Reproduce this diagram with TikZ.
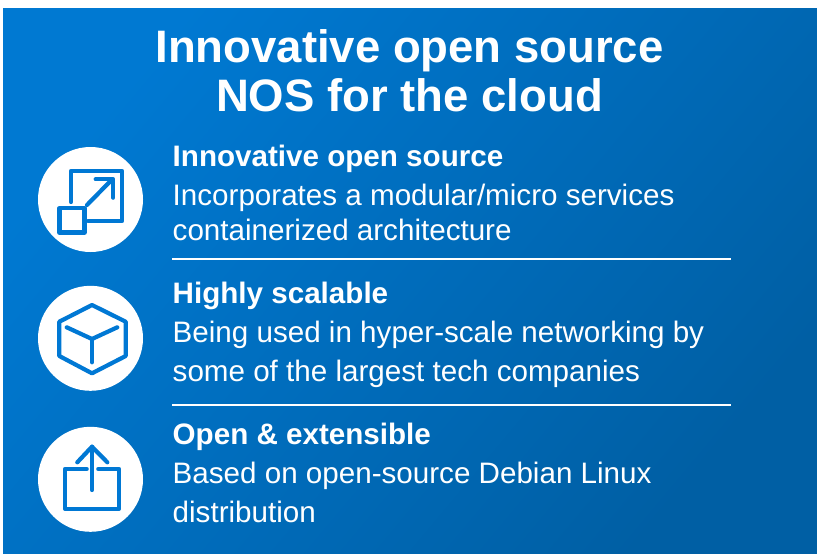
\documentclass[tikz,border=0pt]{standalone}
\usepackage{fontspec}
\setmainfont{Liberation Sans}
\definecolor{bgA}{HTML}{0079D2}
\definecolor{bgM}{HTML}{0076CC}
\definecolor{bgB}{HTML}{005FA4}
\definecolor{iconblue}{HTML}{0078D4}
\tikzset{
  titletext/.style={text=white,font=\fontsize{45.5}{50}\selectfont\bfseries,anchor=base,inner sep=0pt},
  headtext/.style={text=white,font=\fontsize{29.6}{32}\selectfont\bfseries,anchor=base west,inner sep=0pt},
  bodytext/.style={text=white,font=\fontsize{29.6}{32}\selectfont,anchor=base west,inner sep=0pt},
  disc/.style={fill=white,draw=none},
  iconline/.style={draw=iconblue,line width=4.2pt,line cap=round,line join=round},
  rulerline/.style={draw=white,line width=2.4pt}
}
\begin{document}
\begin{tikzpicture}[x=1pt,y=-1pt]
\useasboundingbox (0,0) rectangle (817,554);
\fill[white] (0,0) rectangle (817,554);
\begin{scope}
\clip (3,8) rectangle (817,554);
\shade[left color=bgA,middle color=bgM,right color=bgB,shading angle=50] (3,8) rectangle (817,554);
\end{scope}
\node[titletext] (t1) at (409.5,62) {Innovative open source};
\node[titletext] (t2) at (409.5,111) {NOS for the cloud};
\node[headtext] (h1) at (172.5,166) {Innovative open source};
\node[bodytext] (b1a) at (172.5,205) {Incorporates a modular/micro services};
\node[bodytext] (b1b) at (172.5,240) {containerized architecture};
\draw[rulerline] (172,259) -- (731,259);
\node[headtext] (h2) at (172.5,303) {Highly scalable};
\node[bodytext] (b2a) at (172.5,342) {Being used in hyper-scale networking by};
\node[bodytext] (b2b) at (172.5,381) {some of the largest tech companies};
\draw[rulerline] (172,405) -- (731,405);
\node[headtext] (h3) at (172.5,444) {Open \& extensible};
\node[bodytext] (b3a) at (172.5,483) {Based on open-source Debian Linux};
\node[bodytext] (b3b) at (172.5,522) {distribution};
% icon 1
\fill[disc] (90.5,199.5) circle (52.5);
\draw[iconline] (71,202) -- (71,171) -- (122,171) -- (122,221) -- (88,221);
\draw[iconline] (59.5,208) rectangle (84.5,232.5);
\draw[iconline] (87,205) -- (112,179.5);
\draw[iconline] (95.7,179.3) -- (113.3,179.3) -- (113.3,197.7);
% icon 2
\fill[disc] (90.5,338.3) circle (52.5);
\draw[iconline] (92,305) -- (125.7,321.7) -- (125.7,356) -- (92,373.3) -- (59.3,356) -- (59.3,321.7) -- cycle;
\draw[iconline] (66.7,327.3) -- (92,339) -- (117.3,327.3);
\draw[iconline] (92,339) -- (92,362.3);
% icon 3
\fill[disc] (90.5,479.3) circle (52.5);
\draw[iconline] (86.7,469) -- (65,469) -- (65,508.7) -- (119,508.7) -- (119,469) -- (98.3,469);
\draw[iconline] (92,490) -- (92,446.7);
\draw[iconline] (77.3,462.3) -- (92,446.7) -- (107.3,462.3);
\end{tikzpicture}
\end{document}
